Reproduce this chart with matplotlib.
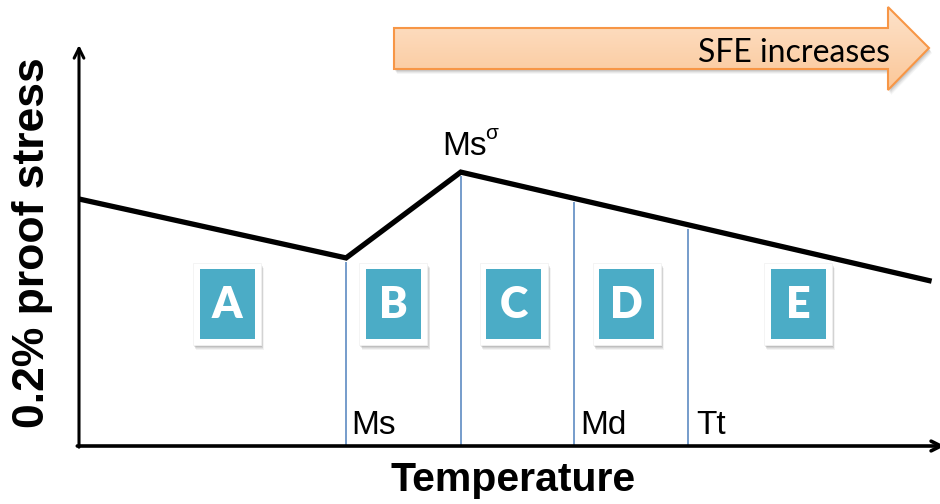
import numpy as np
import matplotlib
matplotlib.use("Agg")
import matplotlib.pyplot as plt
from matplotlib.patches import Rectangle, Polygon

# Schematic proof stress vs temperature (arbitrary units, 0-100)
temperature = [0.0, 31.2, 44.6, 99.6]
stress = [61.6, 46.9, 68.3, 41.1]

# Characteristic temperatures marking the deformation regimes
transition_names = ["Ms", "Ms\u03c3", "Md", "Tt"]
transition_temps = [31.2, 44.6, 57.8, 71.1]

# Regime labels and their centre temperatures
region_letters = ["A", "B", "C", "D", "E"]
region_centers = [17.3, 36.7, 50.8, 64.0, 84.0]
region_level = 35.4

W, H = 940, 504
fig = plt.figure(figsize=(W / 100, H / 100), dpi=100)

# pixel geometry of the plotting area
L, R, T, B = 79, 935, 45, 446
ax = fig.add_axes([L / W, (H - B) / H, (R - L) / W, (B - T) / H])
ax.set_xlim(0, 100)
ax.set_ylim(0, 100)
ax.axis("off")

px_x = 100.0 / (R - L)   # data units per pixel
px_y = 100.0 / (B - T)

# vertical markers, from the baseline up to the curve
for t in transition_temps:
    top = np.interp(t, temperature, stress)
    ax.plot([t, t], [0, top - 1.0], color="#4F81BD", lw=1.1, zorder=2,
            solid_capstyle="butt")

# the stress curve
ax.plot(temperature, stress, color="black", lw=3.8, zorder=4,
        solid_joinstyle="miter", solid_capstyle="butt")

# axes drawn as arrows
ax.annotate("", xy=(0, 1.0), xytext=(0, -0.003), xycoords="axes fraction",
            arrowprops=dict(arrowstyle="->,head_length=0.7,head_width=0.35",
                            lw=2.2, color="black", shrinkA=0, shrinkB=0),
            annotation_clip=False, zorder=5)
ax.annotate("", xy=(1.0115, 0), xytext=(-0.002, 0), xycoords="axes fraction",
            arrowprops=dict(arrowstyle="->,head_length=0.7,head_width=0.35",
                            lw=2.6, color="black", shrinkA=0, shrinkB=0),
            annotation_clip=False, zorder=5)

# regime boxes: soft shadow, white frame, teal tile, white letter
tile_w, tile_h = 55 * px_x, 70 * px_y
frame_w, frame_h = 68 * px_x, 82 * px_y
for letter, cx in zip(region_letters, region_centers):
    cy = region_level
    for k, a in [(5, 0.06), (4, 0.08), (3, 0.10), (2, 0.13)]:
        ax.add_patch(Rectangle((cx - frame_w / 2 + k * 0.6 * px_x,
                                cy - frame_h / 2 - k * px_y),
                               frame_w, frame_h, facecolor="#404040",
                               edgecolor="none", alpha=a, zorder=5))
    ax.add_patch(Rectangle((cx - frame_w / 2, cy - frame_h / 2), frame_w,
                           frame_h, facecolor="white", edgecolor="#f2f2f2",
                           lw=0.6, zorder=6))
    ax.add_patch(Rectangle((cx - tile_w / 2, cy - tile_h / 2), tile_w, tile_h,
                           facecolor="#4BACC6", edgecolor="none", zorder=7))
    ax.text(cx, cy - 0.3, letter, color="white", fontsize=31,
            fontweight="heavy", family="Lato", ha="center", va="center",
            zorder=8)

# transition labels
label_font = dict(family="Liberation Sans", fontsize=24, color="black")
ax.text(31.8, 3.0, "Ms", ha="left", va="baseline", zorder=8, **label_font)
ax.text(58.6, 3.0, "Md", ha="left", va="baseline", zorder=8, **label_font)
ax.text(72.1, 3.0, "Tt", ha="left", va="baseline", zorder=8, **label_font)
ax.text(42.4, 72.6, "Ms", ha="left", va="baseline", zorder=8, **label_font)
ax.text(47.4, 76.6, "\u03c3", ha="left", va="baseline", zorder=8,
        family="Liberation Sans", fontsize=15, color="black")

# axis titles
fig.text(33 / W, 1 - 243 / H, "0.2% proof stress", rotation=90,
         family="Liberation Sans", fontweight="bold", fontsize=32,
         ha="center", va="center")
fig.text(513 / W, 1 - 480 / H, "Temperature", family="Liberation Sans",
         fontweight="bold", fontsize=29.5, ha="center", va="center")

# overlay in pixel coordinates for the block arrow
ov = fig.add_axes([0, 0, 1, 1], zorder=10)
ov.set_xlim(0, W)
ov.set_ylim(H, 0)
ov.axis("off")
ov.patch.set_alpha(0)

arrow_pts = [(394, 28), (888, 28), (888, 7), (929, 48), (888, 90),
             (888, 69), (394, 69)]
for k, a in [(5, 0.05), (4, 0.07), (3, 0.09), (2, 0.10)]:
    ov.add_patch(Polygon([(x + k * 0.6, y + k) for x, y in arrow_pts],
                         closed=True, facecolor="#404040", edgecolor="none",
                         alpha=a, zorder=1))
body = Polygon(arrow_pts, closed=True, facecolor="none", edgecolor="none",
               zorder=2)
ov.add_patch(body)
grad = np.linspace(0, 1, 256)[:, None]
c_top = np.array([0xFD, 0xE2, 0xCA]) / 255
c_bot = np.array([0xFB, 0xC7, 0x98]) / 255
img = c_top[None, None, :] * (1 - grad[:, :, None]) + c_bot[None, None, :] * grad[:, :, None]
im = ov.imshow(img, extent=(394, 929, 90, 7), aspect="auto", zorder=2,
               interpolation="bilinear")
im.set_clip_path(body)
ov.add_patch(Polygon(arrow_pts, closed=True, facecolor="none",
                     edgecolor="#F79646", lw=1.5, joinstyle="miter",
                     zorder=3))
ov.set_xlim(0, W)
ov.set_ylim(H, 0)
ov.text(890, 62, "SFE increases", family="Lato", fontsize=23,
        ha="right", va="baseline", color="black", zorder=4)

fig.savefig("out.png", dpi=100, facecolor="white")
